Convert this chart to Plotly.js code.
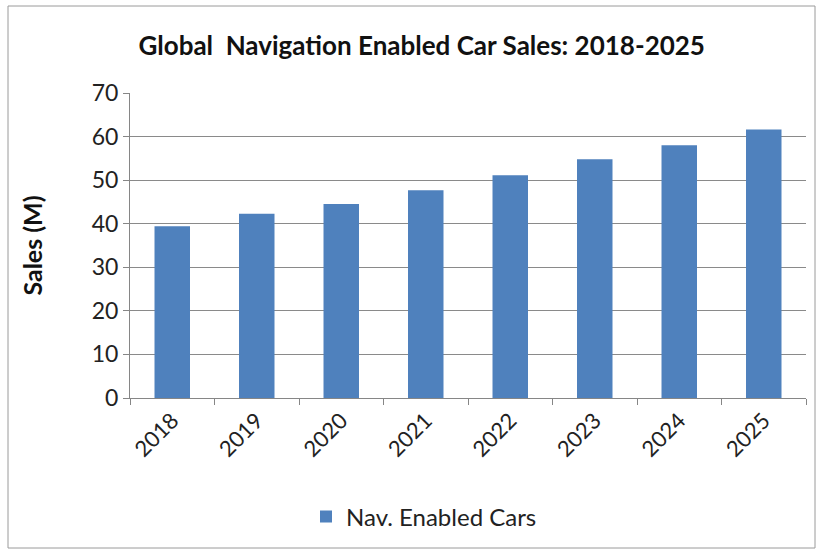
<!DOCTYPE html>
<html>
<head>
<meta charset="utf-8">
<script src="https://cdn.plot.ly/plotly-3.0.1.min.js"></script>
<style>
html,body{margin:0;padding:0;background:#fff;}
#chart{width:822px;height:552px;}
</style>
</head>
<body>
<div id="chart"></div>
<script>
const years = ["2018","2019","2020","2021","2022","2023","2024","2025"];
const sales = [39.4, 42.3, 44.5, 47.7, 51.1, 54.8, 58.0, 61.6];
const seriesName = "Nav. Enabled Cars";
const chartTitle = "Global&nbsp; Navigation Enabled Car Sales: 2018-2025";
const yTitle = "Sales (M)";

const W = 822, H = 552;
const m = {l:130, r:16, t:93, b:154};
const pw = W - m.l - m.r, ph = H - m.t - m.b;
const px = v => (v - m.l) / pw;
const py = v => (H - m.b - v) / ph;

const font = "Lato, 'Open Sans', sans-serif";

Plotly.newPlot('chart', [{
  type: 'bar',
  x: years,
  y: sales,
  name: seriesName,
  marker: {color: '#4F81BD'},
  width: 0.42,
  showlegend: true
}], {
  width: W, height: H,
  margin: m,
  paper_bgcolor: '#fff',
  plot_bgcolor: '#fff',
  title: {
    text: '<b>' + chartTitle + '</b>',
    font: {family: font, size: 26, color: '#111'},
    x: 0.513, xanchor: 'center',
    y: 1 - 46/H, yanchor: 'middle'
  },
  xaxis: {
    type: 'category',
    tickangle: -45,
    tickfont: {family: font, size: 22, color: '#222'},
    showline: true, linecolor: '#868686', linewidth: 1,
    ticks: 'outside', ticklen: 6, tickcolor: '#868686',
    tickson: 'boundaries',
    showgrid: false,
    zeroline: false
  },
  yaxis: {
    range: [0, 70],
    dtick: 10,
    tickfont: {family: font, size: 23, color: '#222'},
    showline: true, linecolor: '#868686', linewidth: 1,
    ticks: 'outside', ticklen: 6, tickcolor: '#868686',
    showgrid: true, gridcolor: '#8a8a8a', gridwidth: 1,
    zeroline: false,
    title: {text: '<b>' + yTitle + '</b>', font: {family: font, size: 25, color: '#111'}, standoff: 41}
  },
  legend: {
    orientation: 'h',
    x: px(424), xanchor: 'center',
    y: py(517), yanchor: 'middle',
    font: {family: font, size: 24, color: '#222'}
  },
  shapes: [{
    type: 'rect', xref: 'paper', yref: 'paper',
    x0: px(8), x1: px(815), y0: py(548), y1: py(6),
    line: {color: '#9a9a9a', width: 1}, fillcolor: 'rgba(0,0,0,0)', layer: 'below'
  }]
}, {displayModeBar: false, staticPlot: true});
</script>
</body>
</html>
